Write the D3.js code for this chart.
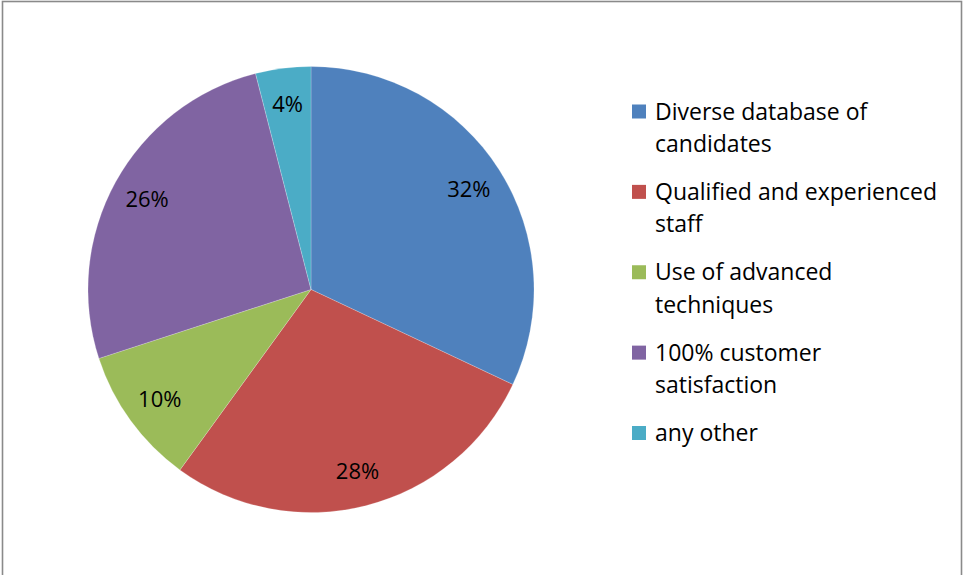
<!DOCTYPE html>
<html>
<head>
<meta charset="utf-8">
<script src="https://cdn.jsdelivr.net/npm/d3@7"></script>
<style>
  html, body { margin: 0; padding: 0; background: #fff; }
  svg { display: block; }
</style>
</head>
<body>
<svg id="chart" width="963" height="575"></svg>
<script>
// Survey answers and their shares (percent)
const categories = [
  "Diverse database of candidates",
  "Qualified and experienced staff",
  "Use of advanced techniques",
  "100% customer satisfaction",
  "any other"
];
const values = [32, 28, 10, 26, 4];
// Legend text broken over two lines, as laid out beside the pie
const legendLines = [
  ["Diverse database of", "candidates"],
  ["Qualified and experienced", "staff"],
  ["Use of advanced", "techniques"],
  ["100% customer", "satisfaction"],
  ["any other"]
];
const colors = ["#4F81BD", "#C0504D", "#9BBB59", "#8064A2", "#4BACC6"];

const svg = d3.select("#chart");
const W = 963, H = 575;
const FONT = "'Open Sans', 'Liberation Sans', sans-serif";

// Outer frame (bottom edge runs past the view)
svg.append("rect")
  .attr("x", 2.5).attr("y", 1.5)
  .attr("width", 959).attr("height", 620)
  .attr("fill", "#fff")
  .attr("stroke", "#8a8a8a")
  .attr("stroke-width", 1.6);

const cx = 311, cy = 289.5, R = 223;

const data = categories.map((c, i) => ({ name: c, value: values[i], color: colors[i] }));

const pie = d3.pie().value(d => d.value).sort(null);
const arcs = pie(data);
const arc = d3.arc().innerRadius(0).outerRadius(R);
const labelArc = d3.arc().innerRadius(187).outerRadius(187);

const g = svg.append("g").attr("transform", `translate(${cx},${cy})`);

g.selectAll("path.slice")
  .data(arcs)
  .join("path")
  .attr("class", "slice")
  .attr("d", arc)
  .attr("fill", d => d.data.color)
  .attr("stroke", "rgba(255,255,255,0.35)")
  .attr("stroke-width", 0.6);

g.selectAll("text.pct")
  .data(arcs)
  .join("text")
  .attr("class", "pct")
  .attr("x", d => labelArc.centroid(d)[0])
  .attr("y", d => labelArc.centroid(d)[1] + 8)
  .attr("text-anchor", "middle")
  .attr("font-family", FONT)
  .attr("font-size", 22)
  .attr("fill", "#000")
  .text(d => d.data.value + "%");

// Legend
const legendY = d3.scalePoint()
  .domain(categories)
  .range([119.5, 441]);

const lg = svg.append("g");
const items = lg.selectAll("g.item")
  .data(data)
  .join("g")
  .attr("class", "item")
  .attr("transform", d => `translate(0,${legendY(d.name)})`);

items.append("rect")
  .attr("x", 632).attr("y", -15)
  .attr("width", 14).attr("height", 14)
  .attr("fill", d => d.color);

items.each(function(d, i) {
  const t = d3.select(this).append("text")
    .attr("font-family", FONT)
    .attr("font-size", 23)
    .attr("fill", "#000");
  legendLines[i].forEach((line, j) => {
    t.append("tspan")
      .attr("x", 655)
      .attr("y", j * 32.5)
      .text(line);
  });
});
</script>
</body>
</html>
